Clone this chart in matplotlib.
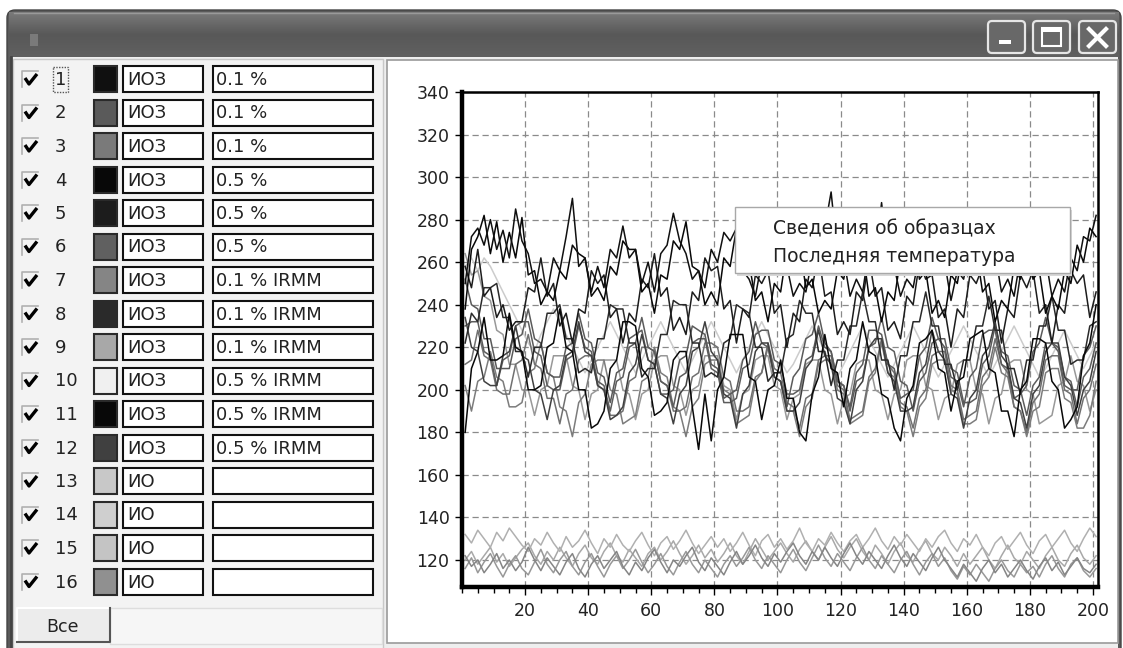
import numpy as np
import matplotlib
matplotlib.use("Agg")
import matplotlib.pyplot as plt
from matplotlib.patches import Rectangle, FancyBboxPatch
from matplotlib.ticker import MultipleLocator

plt.rcParams['font.family'] = ['DejaVu Sans']

# ---------------- data ----------------
row_ids = ["1", "2", "3", "4", "5", "6", "7", "8", "9", "10", "11", "12", "13", "14", "15", "16"]
row_names = ["ИОЗ"] * 12 + ["ИО"] * 4
row_values = ["0.1 %", "0.1 %", "0.1 %", "0.5 %", "0.5 %", "0.5 %",
              "0.1 % IRMM", "0.1 % IRMM", "0.1 % IRMM",
              "0.5 % IRMM", "0.5 % IRMM", "0.5 % IRMM", "", "", "", ""]
row_colors = ["#101010", "#5a5a5a", "#7a7a7a", "#080808", "#1c1c1c", "#606060",
              "#858585", "#2a2a2a", "#a8a8a8", "#f0f0f0", "#080808", "#404040",
              "#c8c8c8", "#cfcfcf", "#c4c4c4", "#909090"]
line_colors = ["#101010", "#5a5a5a", "#707070", "#080808", "#1c1c1c", "#5c5c5c",
               "#7c7c7c", "#2a2a2a", "#989898", "#cccccc", "#080808", "#404040",
               "#b0b0b0", "#a8a8a8", "#989898", "#858585"]

x_step = 2
x_start = 1

s1 = [250, 272, 276, 268, 280, 266, 275, 262, 285, 270,
      264, 250, 252, 246, 262, 256, 272, 290, 258, 262,
      246, 258, 248, 266, 262, 277, 262, 266, 250, 260,
      246, 264, 268, 283, 270, 264, 252, 256, 248, 266,
      260, 274, 270, 276, 256, 252, 244, 260, 256, 272,
      262, 258, 244, 250, 246, 262, 258, 276, 293, 264,
      262, 244, 252, 246, 266, 262, 288, 260, 258, 244,
      252, 248, 264, 258, 272, 256, 260, 242, 256, 252,
      268, 262, 268, 262, 264, 246, 252, 244, 262, 258,
      272, 256, 262, 244, 252, 246, 262, 256, 272, 270,
      282]
s2 = [252, 240, 238, 224, 224, 210, 210, 210, 224, 226,
      238, 224, 222, 208, 206, 206, 220, 222, 236, 224,
      222, 208, 206, 194, 208, 210, 224, 226, 228, 214,
      212, 198, 198, 200, 214, 216, 230, 228, 226, 212,
      210, 196, 198, 200, 214, 218, 232, 222, 220, 206,
      204, 192, 206, 210, 224, 226, 236, 222, 218, 204,
      202, 192, 208, 212, 228, 228, 226, 212, 210, 196,
      198, 200, 216, 220, 234, 224, 220, 206, 204, 192,
      206, 210, 226, 228, 228, 212, 210, 196, 198, 202,
      218, 222, 234, 222, 218, 202, 200, 200, 216, 220,
      230]
s3 = [212, 214, 228, 216, 214, 200, 198, 198, 212, 214,
      226, 212, 210, 196, 196, 184, 198, 200, 214, 216,
      216, 202, 200, 188, 188, 190, 204, 206, 220, 220,
      218, 204, 202, 190, 190, 192, 206, 208, 222, 222,
      220, 206, 204, 190, 190, 192, 206, 208, 222, 210,
      208, 194, 192, 182, 196, 198, 214, 216, 216, 202,
      200, 186, 188, 190, 206, 210, 224, 212, 208, 194,
      192, 182, 196, 200, 216, 218, 218, 202, 200, 186,
      188, 190, 206, 210, 224, 212, 208, 192, 190, 180,
      194, 198, 214, 216, 216, 200, 198, 184, 196, 200,
      212]
s4 = [238, 266, 272, 282, 264, 279, 260, 274, 262, 281,
      254, 256, 240, 246, 242, 256, 252, 268, 264, 262,
      244, 248, 242, 258, 254, 270, 266, 266, 246, 250,
      236, 254, 252, 270, 266, 279, 258, 256, 240, 246,
      240, 262, 258, 276, 262, 260, 242, 246, 232, 250,
      246, 266, 260, 268, 248, 252, 236, 242, 238, 256,
      252, 270, 262, 266, 244, 248, 232, 246, 242, 262,
      256, 272, 252, 256, 236, 242, 234, 254, 250, 268,
      260, 266, 246, 250, 232, 242, 238, 258, 252, 270,
      252, 256, 236, 244, 238, 256, 250, 268, 260, 276,
      272]
s5 = [258, 248, 266, 244, 248, 234, 240, 228, 232, 232,
      248, 246, 262, 244, 250, 230, 236, 222, 238, 236,
      256, 250, 254, 234, 238, 222, 236, 232, 252, 248,
      264, 244, 248, 228, 234, 226, 246, 242, 262, 256,
      258, 238, 242, 222, 238, 234, 254, 250, 256, 236,
      240, 220, 236, 232, 252, 248, 264, 244, 246, 226,
      232, 226, 246, 242, 262, 244, 248, 228, 232, 224,
      244, 240, 260, 252, 254, 234, 238, 220, 238, 234,
      254, 250, 258, 238, 242, 222, 238, 234, 254, 248,
      256, 236, 240, 222, 240, 236, 256, 250, 254, 234,
      246]
s6 = [230, 232, 232, 218, 216, 202, 214, 216, 230, 232,
      232, 218, 216, 202, 200, 200, 214, 216, 230, 220,
      218, 204, 202, 190, 204, 206, 220, 222, 234, 220,
      218, 204, 202, 192, 206, 208, 222, 224, 224, 210,
      208, 194, 194, 196, 210, 212, 226, 228, 228, 214,
      212, 198, 198, 200, 214, 216, 230, 220, 218, 204,
      202, 190, 204, 206, 220, 222, 234, 220, 218, 204,
      202, 190, 204, 208, 222, 224, 224, 210, 208, 194,
      194, 196, 212, 216, 230, 218, 216, 202, 200, 188,
      202, 206, 222, 222, 220, 206, 204, 192, 206, 210,
      222]
s7 = [202, 190, 204, 206, 218, 206, 204, 192, 192, 194,
      208, 210, 222, 208, 206, 192, 190, 178, 194, 198,
      212, 214, 214, 200, 198, 184, 186, 188, 204, 206,
      220, 208, 206, 192, 190, 178, 192, 196, 212, 214,
      214, 200, 198, 184, 186, 188, 204, 208, 220, 206,
      204, 190, 190, 178, 192, 196, 212, 214, 214, 200,
      198, 184, 186, 188, 204, 208, 222, 208, 206, 192,
      190, 178, 192, 196, 212, 214, 214, 200, 198, 184,
      184, 186, 202, 206, 220, 208, 206, 192, 190, 178,
      190, 192, 208, 210, 210, 196, 194, 182, 182, 188,
      204]
s8 = [222, 236, 232, 248, 248, 250, 234, 234, 218, 218,
      206, 220, 220, 236, 236, 240, 224, 224, 208, 210,
      208, 224, 224, 240, 238, 238, 222, 222, 206, 210,
      210, 226, 226, 242, 240, 240, 222, 222, 206, 208,
      206, 222, 224, 240, 238, 236, 220, 220, 204, 208,
      208, 224, 226, 242, 236, 236, 218, 218, 202, 214,
      214, 230, 230, 246, 232, 232, 214, 214, 200, 216,
      216, 232, 232, 246, 230, 230, 212, 212, 200, 214,
      214, 230, 230, 244, 228, 228, 210, 210, 198, 214,
      214, 230, 230, 244, 228, 228, 212, 214, 214, 230,
      232]
s9 = [264, 254, 256, 244, 242, 228, 226, 212, 212, 200,
      200, 188, 200, 202, 216, 216, 216, 202, 200, 186,
      198, 200, 214, 214, 214, 200, 198, 186, 198, 200,
      214, 216, 216, 202, 200, 188, 200, 202, 216, 216,
      216, 202, 200, 186, 198, 200, 214, 216, 216, 202,
      200, 186, 196, 198, 212, 214, 214, 200, 198, 184,
      196, 198, 212, 214, 214, 200, 198, 186, 198, 200,
      214, 216, 216, 202, 200, 186, 196, 198, 212, 214,
      214, 200, 198, 184, 196, 198, 212, 214, 214, 200,
      198, 184, 186, 188, 202, 204, 216, 204, 202, 190,
      200]
s10 = [258, 262, 256, 262, 258, 252, 246, 240, 234, 228,
       222, 218, 226, 232, 238, 232, 226, 220, 214, 208,
       214, 220, 226, 232, 226, 220, 214, 208, 214, 220,
       226, 232, 226, 220, 214, 208, 214, 220, 226, 232,
       226, 220, 214, 208, 214, 220, 226, 232, 226, 220,
       214, 208, 212, 218, 224, 230, 224, 218, 212, 206,
       212, 218, 224, 230, 224, 218, 212, 206, 212, 218,
       224, 230, 224, 218, 212, 206, 212, 218, 224, 230,
       224, 218, 212, 206, 212, 218, 224, 230, 224, 218,
       212, 206, 210, 216, 222, 228, 222, 216, 210, 216,
       222]
s11 = [180, 210, 218, 234, 214, 214, 216, 236, 220, 218,
       200, 200, 202, 220, 222, 238, 220, 218, 200, 200,
       182, 184, 190, 210, 214, 232, 232, 230, 210, 206,
       188, 190, 194, 214, 218, 218, 192, 172, 198, 176,
       200, 206, 226, 226, 226, 206, 204, 186, 200, 202,
       214, 196, 196, 180, 176, 198, 206, 226, 210, 208,
       192, 210, 214, 232, 218, 216, 198, 196, 182, 176,
       196, 202, 222, 224, 228, 210, 208, 190, 204, 206,
       224, 226, 228, 210, 208, 190, 190, 178, 200, 204,
       224, 224, 222, 204, 200, 182, 186, 192, 216, 222,
       240]
s12 = [234, 220, 218, 204, 202, 202, 216, 218, 230, 216,
       214, 200, 198, 186, 200, 202, 216, 218, 232, 218,
       216, 202, 200, 186, 188, 192, 208, 212, 226, 214,
       212, 198, 196, 184, 198, 202, 218, 220, 232, 218,
       214, 198, 196, 182, 198, 202, 218, 222, 222, 206,
       204, 190, 190, 194, 210, 214, 228, 216, 212, 196,
       194, 184, 200, 204, 220, 224, 224, 208, 204, 190,
       190, 192, 208, 212, 228, 218, 214, 198, 196, 182,
       196, 200, 216, 220, 232, 216, 212, 196, 194, 182,
       198, 202, 218, 222, 222, 206, 202, 188, 200, 204,
       218]
s13 = [132, 128, 134, 130, 126, 133, 129, 135, 131, 127,
       124, 130, 127, 133, 128, 124, 131, 126, 129, 134,
       128, 123, 130, 126, 132, 127, 124, 129, 133, 127,
       122, 128, 131, 125, 129, 134, 128, 123, 127, 131,
       126, 130, 124, 128, 133, 127, 122, 129, 132, 126,
       130, 125, 129, 135, 128, 124, 130, 127, 133, 128,
       124, 129, 132, 126, 130, 135, 129, 125, 131, 127,
       132, 128, 124, 130, 126, 131, 134, 128, 124, 130,
       127, 132, 126, 122, 128, 131, 125, 129, 133, 127,
       123, 129, 132, 126, 130, 134, 128, 124, 130, 135,
       131]
s14 = [120, 124, 118, 122, 126, 119, 123, 117, 121, 125,
       128, 122, 118, 124, 120, 126, 121, 117, 123, 127,
       121, 118, 124, 128, 122, 119, 125, 121, 117, 123,
       126, 120, 124, 129, 123, 118, 122, 127, 121, 125,
       119, 123, 128, 122, 118, 124, 130, 125, 120, 124,
       128, 123, 119, 125, 129, 124, 120, 126, 131, 125,
       121, 126, 130, 124, 120, 127, 123, 118, 124, 128,
       122, 119, 125, 129, 123, 120, 126, 122, 117, 123,
       118, 122, 126, 120, 116, 122, 127, 121, 118, 124,
       120, 116, 122, 126, 120, 117, 123, 127, 121, 118,
       122]
s15 = [116, 121, 114, 119, 123, 117, 112, 118, 122, 116,
       113, 119, 125, 118, 114, 120, 124, 117, 113, 119,
       123, 117, 112, 118, 122, 116, 120, 125, 119, 114,
       118, 123, 117, 113, 119, 124, 118, 114, 120, 116,
       112, 118, 122, 117, 121, 126, 120, 116, 122, 118,
       114, 120, 125, 119, 115, 121, 127, 121, 117, 123,
       119, 115, 121, 126, 120, 116, 122, 118, 114, 120,
       124, 118, 113, 119, 123, 117, 121, 115, 111, 117,
       113, 118, 114, 110, 116, 120, 115, 112, 118, 114,
       117, 112, 118, 122, 116, 112, 118, 121, 115, 112,
       116]
s16 = [122, 117, 120, 114, 118, 123, 116, 120, 115, 119,
       126, 120, 115, 121, 117, 113, 119, 123, 116, 112,
       118, 122, 116, 120, 124, 117, 113, 119, 115, 121,
       125, 119, 114, 120, 117, 122, 126, 119, 115, 121,
       117, 113, 119, 124, 118, 122, 127, 121, 117, 123,
       119, 124, 128, 122, 118, 124, 120, 126, 121, 117,
       123, 128, 122, 118, 124, 120, 116, 122, 127, 121,
       117, 123, 119, 115, 121, 126, 120, 116, 112, 118,
       114, 110, 116, 120, 114, 118, 112, 116, 120, 115,
       111, 117, 121, 115, 119, 113, 117, 121, 116, 114,
       118]
series = [s1, s2, s3, s4, s5, s6, s7, s8, s9, s10, s11, s12, s13, s14, s15, s16]

y_ticks = [120, 140, 160, 180, 200, 220, 240, 260, 280, 300, 320, 340]
x_ticks = [20, 40, 60, 80, 100, 120, 140, 160, 180, 200]
menu_items = ["Сведения об образцах", "Последняя температура"]
button_label = "Все"

# ---------------- figure ----------------
W, H = 1123, 648
fig = plt.figure(figsize=(W / 100, H / 100), dpi=100)
fig.patch.set_facecolor("white")

ui = fig.add_axes([0, 0, 1, 1])
ui.set_xlim(0, W)
ui.set_ylim(H, 0)
ui.axis("off")

# window frame
ui.add_patch(FancyBboxPatch((7, 10), 1114, 660, boxstyle="round,pad=0,rounding_size=8",
                            fc="#5a5a5a", ec="#444444", lw=1))
grad = np.linspace(0, 1, 50).reshape(-1, 1)
ui.imshow(grad, extent=(9, 1119, 57, 12), cmap=matplotlib.colors.LinearSegmentedColormap.from_list(
    "tb", ["#7a7a7a", "#585858", "#606060"]), aspect="auto", zorder=1)
ui.plot([14, 1114], [13, 13], color="#9a9a9a", lw=1, zorder=2)
ui.add_patch(Rectangle((30, 34), 8, 12, fc="#7a7a7a", ec="none", zorder=2))

for bx, kind in [(988, "min"), (1033, "max"), (1079, "close")]:
    ui.add_patch(FancyBboxPatch((bx, 21), 37, 32, boxstyle="round,pad=0,rounding_size=4",
                                fc="#686868", ec="#e6e6e6", lw=1.6, zorder=3))
    if kind == "min":
        ui.add_patch(Rectangle((bx + 11, 40), 12, 4, fc="white", ec="none", zorder=4))
    elif kind == "max":
        ui.add_patch(Rectangle((bx + 9, 28), 19, 18, fc="none", ec="white", lw=1.5, zorder=4))
        ui.add_patch(Rectangle((bx + 9, 28), 19, 4, fc="white", ec="none", zorder=4))
    else:
        ui.plot([bx + 10, bx + 27], [29, 46], color="white", lw=3, zorder=4)
        ui.plot([bx + 10, bx + 27], [46, 29], color="white", lw=3, zorder=4)

ui.add_patch(Rectangle((11, 57), 1107, 600, fc="#eeeeee", ec="none", zorder=2))
ui.plot([11, 11], [57, 648], color="#444444", lw=2, zorder=3)
ui.add_patch(Rectangle((13, 59), 370, 590, fc="#f3f3f3", ec="#c8c8c8", lw=1, zorder=2))
ui.add_patch(Rectangle((387, 60), 731, 583, fc="white", ec="#9a9a9a", lw=1.2, zorder=2))

fs_row = 13
for i in range(16):
    yc = 79 + i * 33.5
    ui.plot([22, 22, 38], [yc + 8, yc - 8, yc - 8], color="#b0b0b0", lw=1.2, zorder=3)
    ui.plot([25, 29, 37], [yc - 1, yc + 5, yc - 5], color="black", lw=2.4,
            solid_capstyle="butt", zorder=4)
    ui.text(55, yc + 1, row_ids[i], fontsize=fs_row, ha="left", va="center", color="#222222", zorder=4)
    if i == 0:
        ui.add_patch(Rectangle((53, yc - 12), 15, 25, fc="none", ec="#555555", lw=1,
                               ls=(0, (1, 1)), zorder=4))
    ui.add_patch(Rectangle((94, yc - 13), 23, 26, fc=row_colors[i], ec="#2a2a2a", lw=1.5, zorder=3))
    ui.add_patch(Rectangle((123, yc - 13), 80, 26, fc="white", ec="#111111", lw=1.5, zorder=3))
    ui.text(127, yc + 1, row_names[i], fontsize=fs_row, ha="left", va="center", color="#222222", zorder=4)
    ui.add_patch(Rectangle((213, yc - 13), 160, 26, fc="white", ec="#111111", lw=1.5, zorder=3))
    if row_values[i]:
        ui.text(216, yc + 1, row_values[i], fontsize=fs_row, ha="left", va="center",
                color="#222222", zorder=4)

ui.add_patch(Rectangle((110, 608), 272, 36, fc="#f6f6f6", ec="#dddddd", lw=1, zorder=3))
ui.add_patch(Rectangle((17, 608), 93, 34, fc="#ececec", ec="none", zorder=3))
ui.plot([17, 17, 110], [642, 608, 608], color="white", lw=1.5, zorder=4)
ui.plot([17, 110, 110], [642, 642, 608], color="#555555", lw=1.5, zorder=4)
ui.text(63, 627, button_label, fontsize=12.5, ha="center", va="center", color="#222222", zorder=5)

# ---------------- chart ----------------
L, R, T, B = 462, 1098, 92, 587
ax = fig.add_axes([L / W, 1 - B / H, (R - L) / W, (B - T) / H])
ax.set_facecolor("white")
ax.set_xlim(0, 201.6)
ax.set_ylim(107.3, 340)

order = [13, 12, 14, 15, 9, 8, 6, 2, 5, 1, 11, 7, 4, 10, 3, 0]
for k in order:
    s = series[k]
    xs = [x_start + x_step * j for j in range(len(s))]
    ax.plot(xs, s, color=line_colors[k], lw=1.1, zorder=3)

ax.set_yticks(y_ticks)
ax.set_xticks(x_ticks)
ax.xaxis.set_minor_locator(MultipleLocator(5))
ax.grid(True, which="major", color="#8a8a8a", lw=0.9, ls=(0, (5, 3)), zorder=1)
ax.tick_params(axis="both", which="major", direction="out", length=5, width=1,
               labelsize=12.5, colors="black", pad=4)
ax.tick_params(axis="x", which="major", length=6, pad=5)
ax.tick_params(axis="x", which="minor", direction="out", length=4, width=1)
ax.tick_params(axis="y", which="minor", length=0)
for lab in ax.get_xticklabels() + ax.get_yticklabels():
    lab.set_color("#222222")
ax.spines["left"].set_linewidth(3.2)
ax.spines["bottom"].set_linewidth(3.2)
ax.spines["top"].set_linewidth(1.8)
ax.spines["right"].set_linewidth(1.8)
for sp in ax.spines.values():
    sp.set_color("black")
    sp.set_zorder(5)

# ---------------- popup menu ----------------
top = fig.add_axes([0, 0, 1, 1], facecolor="none")
top.set_xlim(0, W)
top.set_ylim(H, 0)
top.axis("off")
top.add_patch(Rectangle((737, 210), 335, 66, fc="#d8d8d8", ec="none", zorder=1))
top.add_patch(Rectangle((735, 207), 335, 66, fc="white", ec="#a8a8a8", lw=1, zorder=2))
top.text(773, 228, menu_items[0], fontsize=13.5, ha="left", va="center", color="#222222", zorder=3)
top.text(773, 256, menu_items[1], fontsize=13.5, ha="left", va="center", color="#222222", zorder=3)

fig.savefig("out.png", dpi=100)
